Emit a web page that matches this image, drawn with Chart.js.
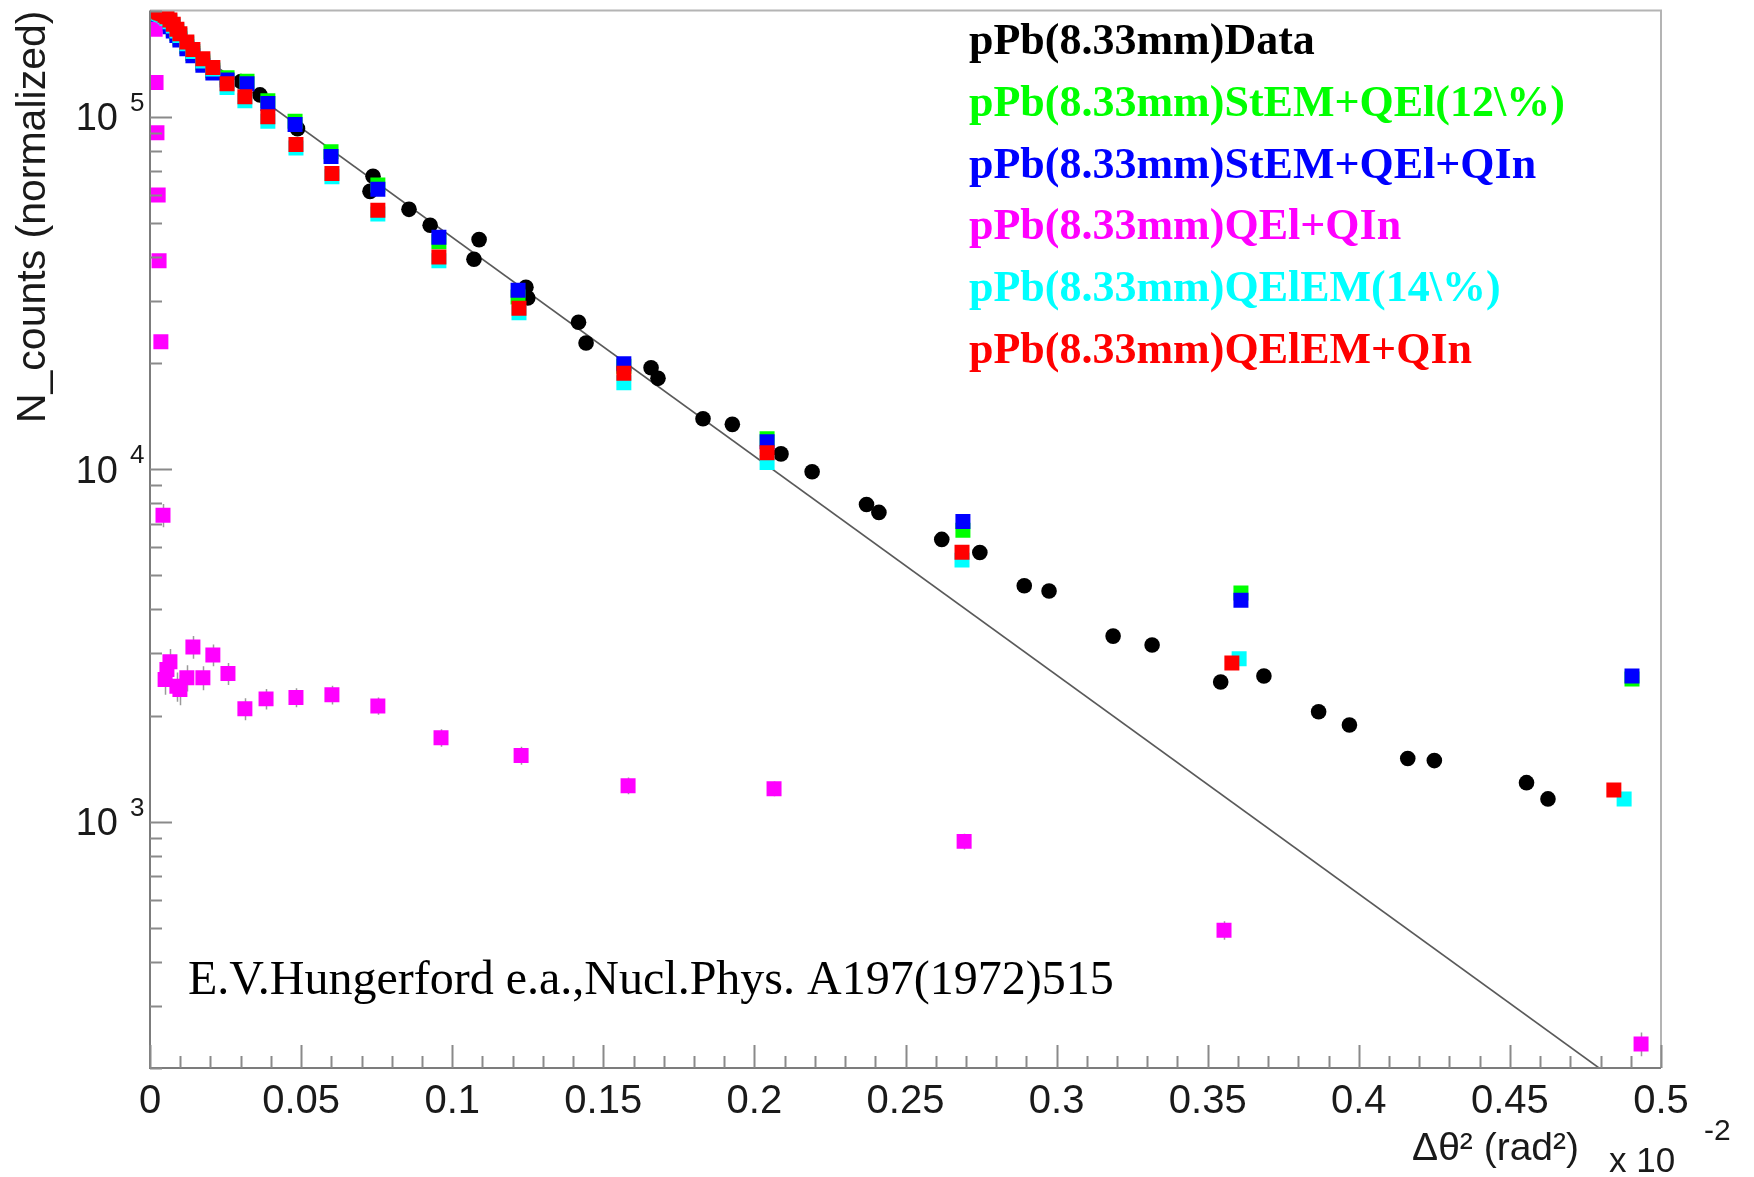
<!DOCTYPE html>
<html>
<head>
<meta charset="utf-8">
<title>pPb(8.33mm) angular distribution</title>
<script src="https://cdn.jsdelivr.net/npm/chart.js@4.4.1/dist/chart.umd.min.js"></script>
<style>
  html, body { margin: 0; padding: 0; background: #fff; }
  #wrap { width: 1754px; height: 1177px; }
</style>
</head>
<body>
<div id="wrap"><canvas id="chart" width="1754" height="1177"></canvas></div>
<script>
'use strict';

// x = delta theta^2 (rad^2, x 10^-2), y = counts (normalized)

// pPb(8.33mm)Data - E.V.Hungerford e.a.
var dataX = [0.0301, 0.0364, 0.0488, 0.0728, 0.0738, 0.0857, 0.0927, 0.1072, 0.1089, 0.1244,
             0.1250, 0.1418, 0.1443, 0.1658, 0.1681, 0.1830, 0.1927, 0.2088, 0.2191, 0.2371,
             0.2412, 0.2620, 0.2746, 0.2893, 0.2975, 0.3187, 0.3316, 0.3543, 0.3686, 0.3867,
             0.3969, 0.4162, 0.4250, 0.4555, 0.4626];
var dataY = [125800, 115300, 92500, 61400, 67800, 54600, 49200, 39400, 44800, 32800,
             30600, 26100, 22800, 19400, 18100, 13900, 13400, 11050, 9830, 7940,
             7540, 6320, 5800, 4670, 4510, 3360, 3170, 2490, 2590, 2050,
             1880, 1510, 1490, 1290, 1160];

// StEM+QEl(12%)
var stemQelX = [0.0023, 0.0030, 0.0036, 0.0043, 0.0050, 0.0056, 0.0066, 0.0077, 0.0089, 0.0099,
                0.0122, 0.0142, 0.0175, 0.0208, 0.0255, 0.0321, 0.0390, 0.0480, 0.0599, 0.0754,
                0.0956, 0.1218, 0.1568, 0.2042, 0.2690, 0.3610, 0.4904];
var stemQelY = [195000, 194000, 192000, 190000, 188000, 186000, 182000, 177000, 172000, 167000,
                158000, 151000, 142000, 135000, 129000, 126000, 111000, 97000, 79500, 64000,
                44200, 30800, 19600, 12200, 6710, 4450, 2540];

// StEM+QEl+QIn
var stemQelQinX = [0.0023, 0.0030, 0.0036, 0.0043, 0.0050, 0.0056, 0.0066, 0.0077, 0.0089, 0.0099,
                   0.0122, 0.0142, 0.0175, 0.0208, 0.0255, 0.0321, 0.0390, 0.0480, 0.0599, 0.0754,
                   0.0956, 0.1218, 0.1568, 0.2042, 0.2690, 0.3610, 0.4904];
var stemQelQinY = [194000, 192000, 190000, 188000, 186000, 184000, 180000, 175000, 170000, 165000,
                   156000, 149000, 140000, 133000, 127000, 124000, 109000, 95000, 77100, 62300,
                   45500, 32200, 19900, 11970, 7110, 4250, 2590];

// QEl+QIn
var qelQinX = [0.0017, 0.0020, 0.0023, 0.0027, 0.0030, 0.0036, 0.0043, 0.0050, 0.0056, 0.0066,
               0.0089, 0.0099, 0.0122, 0.0142, 0.0175, 0.0208, 0.0258, 0.0314, 0.0384, 0.0483,
               0.0602, 0.0754, 0.0963, 0.1228, 0.1582, 0.2065, 0.2694, 0.3554, 0.4934];
var qelQinY = [177000, 125000, 90000, 60000, 39000, 23000, 7400, 2530, 2700, 2840,
               2420, 2370, 2560, 3130, 2560, 2970, 2630, 2090, 2230, 2250,
               2290, 2130, 1730, 1540, 1265, 1240, 879, 492, 234];
var qelQinErr = [3000, 2500, 2000, 1700, 1300, 1000, 560, 240, 250, 250,
                 230, 230, 220, 230, 200, 210, 190, 150, 150, 140,
                 140, 120, 100, 90, 70, 60, 45, 30, 18];

// QElEM(14%)
var qelemX = [0.0023, 0.0030, 0.0036, 0.0043, 0.0050, 0.0056, 0.0066, 0.0077, 0.0089, 0.0099,
              0.0122, 0.0142, 0.0175, 0.0208, 0.0255, 0.0314, 0.0390, 0.0483, 0.0602, 0.0754,
              0.0956, 0.1221, 0.1568, 0.2042, 0.2687, 0.3604, 0.4878];
var qelemY = [197000, 196000, 195000, 194000, 192000, 190000, 186000, 181000, 175000, 170000,
              161000, 153000, 144000, 136500, 121000, 111000, 97000, 81500, 67500, 53000,
              39000, 27800, 17600, 10440, 5520, 2900, 1160];

// QElEM+QIn
var qelemQinX = [0.0023, 0.0030, 0.0036, 0.0043, 0.0050, 0.0056, 0.0066, 0.0077, 0.0089, 0.0099,
                 0.0122, 0.0142, 0.0175, 0.0208, 0.0255, 0.0314, 0.0390, 0.0483, 0.0602, 0.0754,
                 0.0956, 0.1221, 0.1568, 0.2042, 0.2687, 0.3580, 0.4844];
var qelemQinY = [199000, 198000, 197000, 196000, 194000, 192000, 188000, 183000, 177000, 172000,
                 163000, 155000, 146000, 138000, 124000, 114000, 100000, 83400, 69000, 54300,
                 40000, 28600, 18700, 11140, 5810, 2820, 1230];

// exponential fit drawn as straight line on the log axis
var fitX = [0, 0.4795];
var fitY = [190000, 200];

var xTicks = [0, 0.05, 0.1, 0.15, 0.2, 0.25, 0.3, 0.35, 0.4, 0.45, 0.5];
var xTickLabels = ['0', '0.05', '0.1', '0.15', '0.2', '0.25', '0.3', '0.35', '0.4', '0.45', '0.5'];
var xMinorStep = 0.01;
var yTickExponents = [3, 4, 5];

var legendLabels = [
    'pPb(8.33mm)Data',
    'pPb(8.33mm)StEM+QEl(12\\%)',
    'pPb(8.33mm)StEM+QEl+QIn',
    'pPb(8.33mm)QEl+QIn',
    'pPb(8.33mm)QElEM(14\\%)',
    'pPb(8.33mm)QElEM+QIn'
];
var citation = 'E.V.Hungerford e.a.,Nucl.Phys. A197(1972)515';

function pts(xs, ys) {
    return xs.map(function(x, i) { return {x: x, y: ys[i]}; });
}

function markerSet(label, xs, ys, color, style, radius, order) {
    return {
        label: label,
        data: pts(xs, ys),
        backgroundColor: color,
        borderColor: color,
        pointBackgroundColor: color,
        pointBorderWidth: 0,
        pointStyle: style,
        pointRadius: radius,
        pointHoverRadius: radius,
        showLine: false,
        clip: 0,
        order: order
    };
}

var SANS = '"Liberation Sans", Arial, sans-serif';
var SERIF = '"Liberation Serif", "Times New Roman", serif';

// vertical error bars for the QEl+QIn points, drawn under the markers
var errorBars = {
    id: 'errorBars',
    beforeDatasetsDraw: function(chart) {
        var ctx = chart.ctx;
        var xs = chart.scales.x;
        var ys = chart.scales.y;
        var a = chart.chartArea;
        ctx.save();
        ctx.beginPath();
        ctx.rect(a.left, a.top, a.right - a.left, a.bottom - a.top);
        ctx.clip();
        ctx.strokeStyle = '#9a9a9a';
        ctx.lineWidth = 1.5;
        ctx.beginPath();
        qelQinX.forEach(function(x, i) {
            var px = Math.round(xs.getPixelForValue(x)) + 0.5;
            ctx.moveTo(px, ys.getPixelForValue(qelQinY[i] + qelQinErr[i]));
            ctx.lineTo(px, ys.getPixelForValue(qelQinY[i] - qelQinErr[i]));
        });
        ctx.stroke();
        ctx.restore();
    }
};

var rootDecor = {
    id: 'rootDecor',
    afterDatasetsDraw: function(chart) {
        var ctx = chart.ctx;
        var a = chart.chartArea;
        var xs = chart.scales.x;
        var ys = chart.scales.y;
        var i, px, py, len;

        ctx.save();

        // frame
        ctx.lineWidth = 2;
        ctx.strokeStyle = '#b4b4b4';
        ctx.beginPath();
        ctx.moveTo(a.left, a.top); ctx.lineTo(a.right, a.top); ctx.lineTo(a.right, a.bottom);
        ctx.stroke();
        ctx.strokeStyle = '#7c7c7c';
        ctx.beginPath();
        ctx.moveTo(a.left, a.top); ctx.lineTo(a.left, a.bottom); ctx.lineTo(a.right, a.bottom);
        ctx.stroke();

        // x ticks, pointing into the frame
        ctx.strokeStyle = '#8a8a8a';
        ctx.beginPath();
        var nMinor = Math.round((xs.max - xs.min) / xMinorStep);
        for (i = 0; i <= nMinor; i++) {
            px = Math.round(xs.getPixelForValue(xs.min + i * xMinorStep)) + 0.5;
            len = (i % 5 === 0) ? 23 : 12;
            ctx.moveTo(px, a.bottom); ctx.lineTo(px, a.bottom - len);
        }
        // y ticks (log decades with 2..9 minors)
        for (var e = 2; e <= 5; e++) {
            for (var m = 1; m <= 9; m++) {
                var v = m * Math.pow(10, e);
                if (v < ys.min || v > ys.max) continue;
                py = Math.round(ys.getPixelForValue(v)) + 0.5;
                len = (m === 1) ? 22 : 12;
                ctx.moveTo(a.left, py); ctx.lineTo(a.left + len, py);
            }
        }
        ctx.stroke();

        // y tick labels 10^n
        ctx.fillStyle = '#1a1a1a';
        yTickExponents.forEach(function(ex) {
            var y = ys.getPixelForValue(Math.pow(10, ex));
            ctx.font = '38px ' + SANS;
            ctx.textAlign = 'right';
            ctx.textBaseline = 'middle';
            ctx.fillText('10', a.left - 32, y + 3);
            ctx.font = '26px ' + SANS;
            ctx.textAlign = 'left';
            ctx.fillText(String(ex), a.left - 20, y - 13);
        });

        // x axis title and exponent
        ctx.textBaseline = 'alphabetic';
        ctx.textAlign = 'right';
        ctx.font = '39px ' + SANS;
        ctx.fillText('\u0394\u03b8\u00b2 (rad\u00b2)', a.right - 82, a.bottom + 92);
        ctx.textAlign = 'left';
        ctx.font = '35px ' + SANS;
        ctx.fillText('x 10', a.right - 52, a.bottom + 104);
        ctx.font = '30px ' + SANS;
        ctx.fillText('-2', a.right + 43, a.bottom + 72);

        // legend: coloured text only
        ctx.font = 'bold 44px ' + SERIF;
        var lx = 969, ly = 54, step = 61.8;
        chart.data.datasets.forEach(function(ds) {
            if (ds.isFit) return;
            ctx.fillStyle = ds.borderColor;
            ctx.fillText(ds.label, lx, ly);
            ly += step;
        });

        // reference text
        ctx.fillStyle = '#000';
        ctx.font = '48px ' + SERIF;
        ctx.fillText(citation, 188, 994);

        ctx.restore();
    }
};

var ctx = document.getElementById('chart').getContext('2d');
new Chart(ctx, {
    type: 'scatter',
    data: {
        datasets: [
            markerSet(legendLabels[0], dataX, dataY, '#000000', 'circle', 7.8, 6),
            markerSet(legendLabels[1], stemQelX, stemQelY, '#00ff00', 'rect', 10.6, 5),
            markerSet(legendLabels[2], stemQelQinX, stemQelQinY, '#0000ff', 'rect', 10.6, 4),
            markerSet(legendLabels[3], qelQinX, qelQinY, '#ff00ff', 'rect', 10.6, 3),
            markerSet(legendLabels[4], qelemX, qelemY, '#00ffff', 'rect', 10.6, 2),
            markerSet(legendLabels[5], qelemQinX, qelemQinY, '#ff0000', 'rect', 10.6, 1),
            {
                label: 'fit',
                isFit: true,
                data: pts(fitX, fitY),
                showLine: true,
                borderColor: '#5a5a5a',
                borderWidth: 1.6,
                pointRadius: 0,
                fill: false,
                clip: 0,
                order: 10
            }
        ]
    },
    options: {
        responsive: false,
        animation: false,
        events: [],
        layout: { padding: { top: 9, right: 93, left: 0, bottom: 0 } },
        plugins: {
            legend: { display: false },
            tooltip: { enabled: false }
        },
        scales: {
            x: {
                type: 'linear',
                min: 0,
                max: 0.5,
                afterBuildTicks: function(scale) {
                    scale.ticks = xTicks.map(function(v) { return {value: v}; });
                },
                afterFit: function(scale) { scale.height = 109; },
                grid: { display: false, drawTicks: false },
                border: { display: false },
                ticks: {
                    autoSkip: false,
                    maxRotation: 0,
                    padding: 10,
                    color: '#1a1a1a',
                    font: { family: SANS, size: 40 },
                    callback: function(value, index) { return xTickLabels[index]; }
                }
            },
            y: {
                type: 'logarithmic',
                min: 200,
                max: 200000,
                afterFit: function(scale) { scale.width = 150; },
                grid: { display: false, drawTicks: false },
                border: { display: false },
                ticks: { display: false },
                title: {
                    display: true,
                    text: 'N_counts (normalized)',
                    align: 'end',
                    color: '#1a1a1a',
                    font: { family: SANS, size: 41 },
                    padding: { top: 9, bottom: 0 }
                }
            }
        }
    },
    plugins: [errorBars, rootDecor]
});
</script>
</body>
</html>
